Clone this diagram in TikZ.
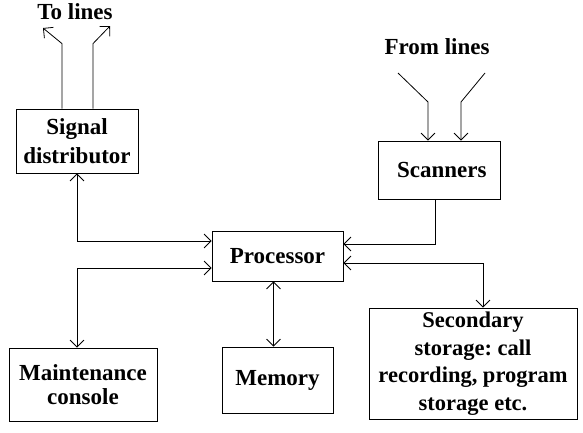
\documentclass[tikz,border=0pt]{standalone}
\usepackage{fontspec}
\setmainfont{Liberation Serif}
\usetikzlibrary{arrows.meta}
\begin{document}
\begin{tikzpicture}[x=1pt, y=-1pt, line width=0.8pt,
		>={Straight Barb[length=7pt,width=14pt]},
		box/.style={draw, align=center, inner sep=0pt, font=\fontsize{23}{24}\selectfont\bfseries},
		lbl/.style={font=\fontsize{23}{24}\selectfont\bfseries}]
	\useasboundingbox (0,0) rectangle (583,432);

	\node[box, minimum width=122pt, minimum height=64pt, font=\fontsize{23}{29}\selectfont\bfseries] (sig) at (77,141) {Signal\\distributor};
	\node[box, minimum width=122pt, minimum height=58pt] (scan) at (439,170) {~Scanners};
	\node[box, minimum width=131pt, minimum height=50pt] (proc) at (277.5,256) {Processor};
	\node[box, minimum width=148pt, minimum height=73pt] (maint) at (83,384.5) {Maintenance\\console};
	\node[box, minimum width=111pt, minimum height=66pt] (mem) at (277.5,380) {Memory};
	\node[box, minimum width=208pt, minimum height=111pt, font=\fontsize{22.5}{27.5}\selectfont\bfseries] (sec) at (473,363.5) {Secondary\\storage:~call\\recording, program\\storage~etc.};

	\node[lbl] (to) at (75,12) {To~lines};
	\node[lbl] (from) at (437,47) {From~lines};

	% free ends of the line connectors
	\coordinate (out1) at (43,28);
	\coordinate (out2) at (110,26);
	\coordinate (in1) at (398,73);
	\coordinate (in2) at (485,73);

	\draw[->] ([xshift=-15pt]sig.north) -- ++(0,-65) -- (out1);
	\draw[->] ([xshift=16pt]sig.north) -- ++(0,-65) -- (out2);
	\draw[->] (in1) -- ([xshift=-11pt]scan.north |- 0,102) -- ([xshift=-11pt]scan.north);
	\draw[->] (in2) -- ([xshift=22pt]scan.north |- 0,102) -- ([xshift=22pt]scan.north);

	\draw[<->] ([yshift=15pt]proc.west) -| (sig.south);
	\draw[<->] ([yshift=-12pt]proc.west) -| ([xshift=-6pt]maint.north);
	\draw[->] ([xshift=-4pt]scan.south) |- ([yshift=12pt]proc.east);
	\draw[<->] ([yshift=-7pt]proc.east) -| ([xshift=10pt]sec.north);
	\draw[<->] ([xshift=-4pt]proc.south) -- ([xshift=-4pt]mem.north);
\end{tikzpicture}
\end{document}
